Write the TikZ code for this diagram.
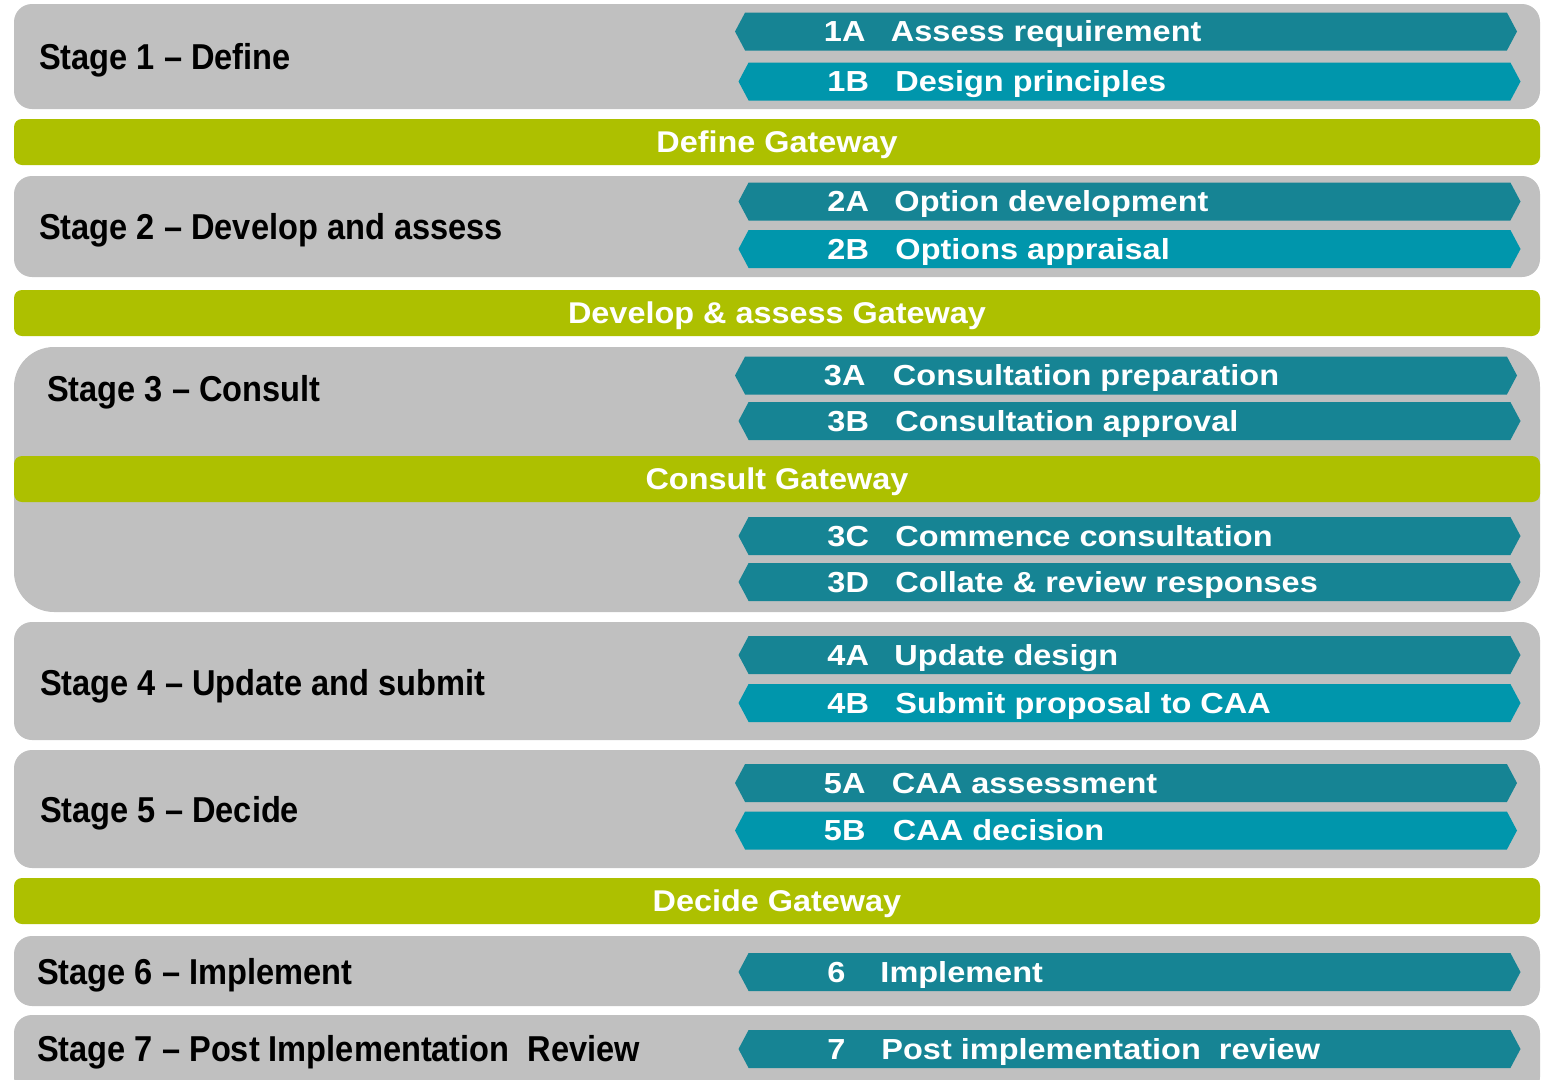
\documentclass[tikz,border=0pt]{standalone}
\usepackage{fontspec}
\setmainfont{Liberation Sans}
\newfontfamily\stagefont[FakeStretch=0.905]{Liberation Sans}
\newfontfamily\barfont[FakeStretch=1.12]{Liberation Sans}
\newfontfamily\gatefont[FakeStretch=1.08]{Liberation Sans}
\usetikzlibrary{shapes.symbols,positioning}
\definecolor{stagegray}{RGB}{192,192,192}
\definecolor{gategreen}{RGB}{173,192,0}
\definecolor{tealdark}{RGB}{22,132,148}
\definecolor{teallight}{RGB}{0,150,172}

\begin{document}
\begin{tikzpicture}[x=1pt,y=-1pt,
    stagebox/.style={rectangle, rounded corners=18pt, fill=stagegray, minimum width=1526pt, inner sep=0pt},
    gatebox/.style={rectangle, rounded corners=8pt, fill=gategreen, minimum width=1526pt, minimum height=46pt, inner sep=0pt,
        text=white, text height=21.5pt, text depth=0pt, font=\gatefont\bfseries\fontsize{30}{36}\selectfont},
    bar/.style={signal, signal to=west and east, signal pointer angle=124, minimum width=782pt, minimum height=38pt, inner sep=0pt},
    bartext/.style={anchor=west, inner sep=0pt, text=white, text height=20.8pt, text depth=0pt, font=\barfont\bfseries\fontsize{29}{35}\selectfont}]
    \clip (0,0) rectangle (1547,1079);
    \fill[white] (0,0) rectangle (1547,1079);
    % stages
    \node[stagebox, minimum height=105pt] (s1) at (777,56.5) {};
    \node[stagebox, minimum height=101pt] (s2) at (777,226.5) {};
    \node[stagebox, minimum height=265pt, rounded corners=40pt] (s3) at (777,479.5) {};
    \node[stagebox, minimum height=118pt] (s4) at (777,681) {};
    \node[stagebox, minimum height=118pt] (s5) at (777,809) {};
    \node[stagebox, minimum height=70pt] (s6) at (777,971) {};
    \node[stagebox, minimum height=80pt] (s7) at (777,1055) {};
    % gateways
    \node[gatebox] (g1) at (777,142) {Define Gateway};
    \node[gatebox] (g2) at (777,313) {Develop \& assess Gateway};
    \node[gatebox] (g3) at (777,479) {Consult Gateway};
    \node[gatebox] (g4) at (777,901) {Decide Gateway};
    \begin{scope}[every node/.style={anchor=west, inner sep=0pt, text height=25.8pt, text depth=0pt,
            font=\stagefont\bfseries\fontsize{36}{43}\selectfont}]
        \node (l1) at (39,56.5) {Stage 1 – Define};
        \node (l2) at (39,227) {Stage 2 – Develop and assess};
        \node (l3) at (47,389) {Stage 3 – Consult};
        \node (l4) at (40,683) {Stage 4 – Update and submit};
        \node (l5) at (40,810) {Stage 5 – Decide};
        \node (l6) at (37,972) {Stage 6 – Implement};
        \node (l7) at (37,1049) {Stage 7 – Post Implementation\ \ Review};
    \end{scope}
    % steps
    \foreach \id/\x/\y/\col/\num/\off/\txt in {
            1a/1126/31.5/tealdark/1A/156pt/Assess requirement,
            1b/1129.5/81.5/teallight/1B/157pt/Design principles,
            2a/1129.5/201.5/tealdark/2A/156pt/Option development,
            2b/1129.5/249/teallight/2B/157pt/Options appraisal,
            3a/1126/375.5/tealdark/3A/158pt/Consultation preparation,
            3b/1129.5/421/tealdark/3B/157pt/Consultation approval,
            3c/1129.5/536/tealdark/3C/157pt/Commence consultation,
            3d/1129.5/582/tealdark/3D/157pt/Collate \& review responses,
            4a/1129.5/655/tealdark/4A/156pt/Update design,
            4b/1129.5/703/teallight/4B/157pt/Submit proposal to CAA,
            5a/1126/783/tealdark/5A/157pt/CAA assessment,
            5b/1126/830.5/teallight/5B/158pt/CAA decision,
            6/1129.5/972/tealdark/6/142pt/Implement,
            7/1129.5/1049/tealdark/7/143pt/Post implementation\ \ review}{
        \node[bar, fill=\col] (b\id) at (\x,\y) {};
        \node[bartext, right=89pt of b\id.west] (n\id) {\num};
        \node[bartext, right=\off of b\id.west] (t\id) {\txt};
    }
\end{tikzpicture}
\end{document}
